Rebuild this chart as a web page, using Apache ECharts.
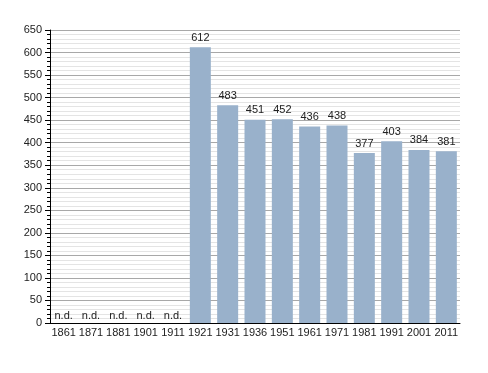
<!DOCTYPE html>
<html><head><meta charset="utf-8">
<script src="https://cdn.jsdelivr.net/npm/echarts@6/dist/echarts.min.js"></script>
<style>html,body{margin:0;padding:0;background:#fff}#c{width:488px;height:373px}</style>
</head><body><div id="c"></div>
<script>
const categories = ['1861','1871','1881','1901','1911','1921','1931','1936','1951','1961','1971','1981','1991','2001','2011'];
const population = [null,null,null,null,null,612,483,451,452,436,438,377,403,384,381];
const noData = [0,0,0,0,0,null,null,null,null,null,null,null,null,null,null];
const yTicks = [0,50,100,150,200,250,300,350,400,450,500,550,600,650];

const chart = echarts.init(document.getElementById('c'));
const font = 'Liberation Sans, Arial, sans-serif';
chart.setOption({
  animation: false,
  grid: {left: 50, right: 28, top: 30, bottom: 50},
  xAxis: {
    type: 'category', data: categories,
    axisLine: {lineStyle: {color: '#000'}},
    axisTick: {show: false},
    axisLabel: {color: '#222', fontFamily: font, fontSize: 11, margin: 4, interval: 0}
  },
  yAxis: {
    type: 'value', min: yTicks[0], max: yTicks[yTicks.length-1], interval: 50,
    axisLine: {show: true, lineStyle: {color: '#000'}},
    axisTick: {show: true, length: 5, lineStyle: {color: '#000'}},
    minorTick: {show: true, splitNumber: 5, length: 3, lineStyle: {color: '#000'}},
    splitLine: {lineStyle: {color: '#a8a8a8', width: 1}},
    minorSplitLine: {show: true, lineStyle: {color: '#e4e4e4', width: 1}},
    axisLabel: {color: '#222', fontFamily: font, fontSize: 11, margin: 8}
  },
  series: [{
    type: 'bar', data: population, barWidth: 21,
    itemStyle: {color: '#99b1cb'},
    label: {show: true, position: 'top', color: '#222', fontFamily: font, fontSize: 11, distance: 4}
  },{
    type: 'bar', data: noData, barWidth: 21, barGap: '-100%',
    itemStyle: {color: 'transparent'},
    label: {show: true, position: 'top', formatter: 'n.d.', color: '#222', fontFamily: font, fontSize: 11, distance: 2}
  }]
});
</script></body></html>
